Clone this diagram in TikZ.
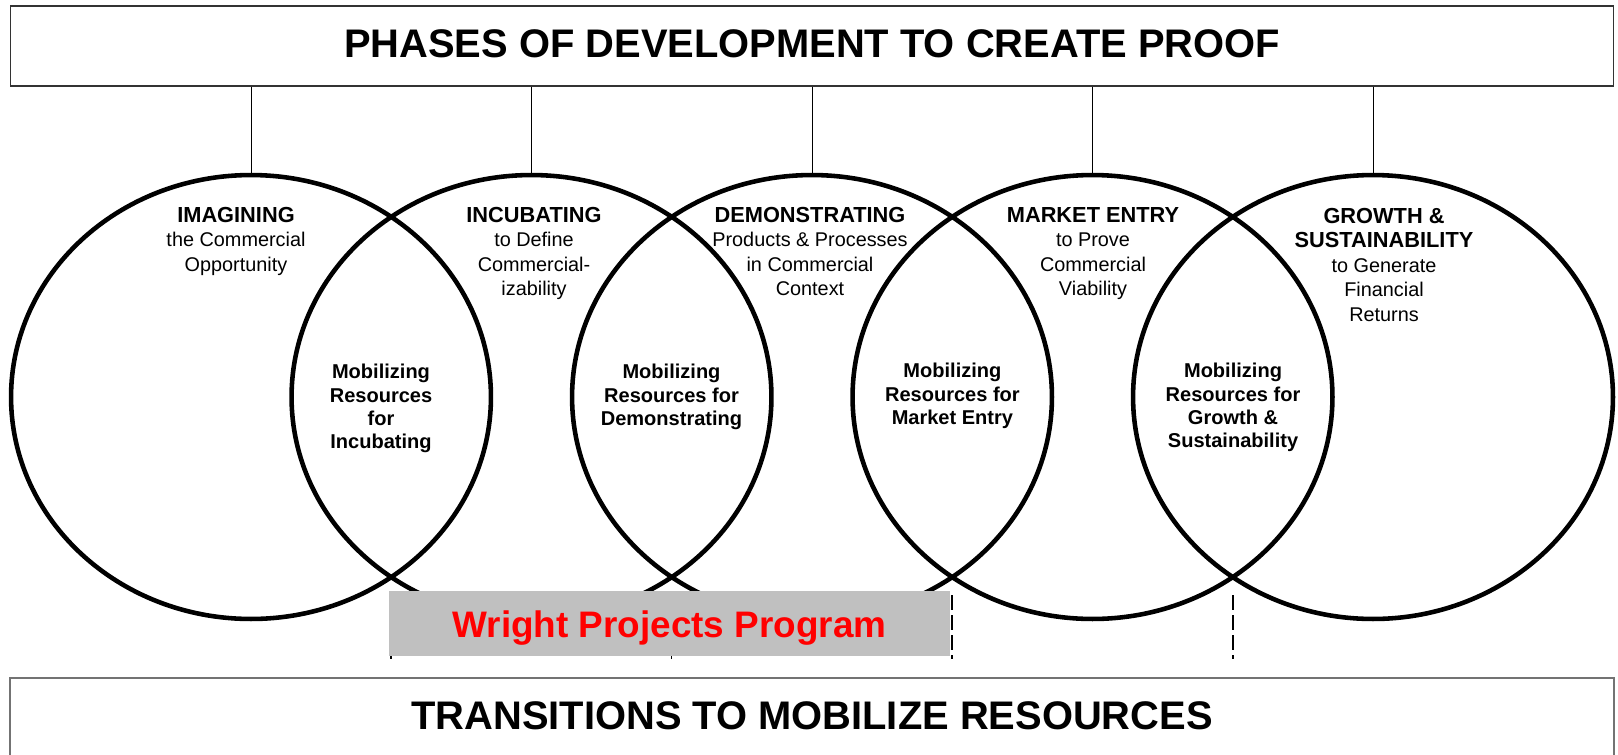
\documentclass[tikz,border=0pt]{standalone}
\usepackage{fontspec}
\setmainfont{Liberation Sans}
\usetikzlibrary{shapes.geometric,positioning,calc}
\definecolor{wppgray}{RGB}{192,192,192}
\definecolor{wppred}{RGB}{255,0,0}
\newcommand\phasename[1]{{\bfseries\fontsize{12.4}{13.9}\selectfont #1}}

\begin{document}
\begin{tikzpicture}[
    x=0.02cm, y=-0.02cm,
    titlebox/.style={rectangle, draw=black!80, line width=0.6pt, minimum width=32.08cm, font=\bfseries\fontsize{22.7}{27}\selectfont},
    phase/.style={ellipse, draw, line width=2.6pt, minimum width=9.6cm, minimum height=8.88cm, inner sep=0pt},
    phaselabel/.style={anchor=north, align=center, inner sep=0pt, font=\fontsize{11.3}{13.9}\selectfont},
    mobilabel/.style={anchor=north, align=center, inner sep=0pt, font=\bfseries\fontsize{11.4}{13.3}\selectfont},
    link/.style={draw, line width=0.55pt},
    trans/.style={draw, line width=0.8pt, dash pattern=on 0.3cm off 0.1cm},
]
\useasboundingbox (0,0) rectangle (1618,754);

% Top and bottom boxes
\node[titlebox, minimum height=1.6cm, text depth=0.08cm] (phasebox) at (812,46) {PHASES OF DEVELOPMENT TO CREATE PROOF};
\node[titlebox, draw=black!55, line width=0.9pt, minimum height=1.68cm, text depth=0.16cm] (transbox) at (812,720) {TRANSITIONS TO MOBILIZE RESOURCES};

% Phases
\node[phase] (imag) at (251,397) {};
\node[phase] (incu) at (531.5,397) {};
\node[phase] (demo) at (812,397) {};
\node[phase] (market) at (1092.5,397) {};
\node[phase] (growth) at (1373,397) {};

% Links to the top box
\draw[link] (phasebox.south -| imag.north) -- (imag.north);
\draw[link] (phasebox.south -| incu.north) -- (incu.north);
\draw[link] (phasebox.south -| demo.north) -- (demo.north);
\draw[link] (phasebox.south -| market.north) -- (market.north);
\draw[link] (phasebox.south -| growth.north) -- (growth.north);

% Transitions
\coordinate (cross1) at (391,595);
\coordinate (cross2) at (671.5,595);
\coordinate (cross3) at (952,595);
\coordinate (cross4) at (1233,595);
\coordinate (foot1) at (391,659);
\coordinate (foot2) at (671.5,659);
\coordinate (foot3) at (952,659);
\coordinate (foot4) at (1233,659);
\draw[trans] (cross1) -- (foot1);
\draw[trans] (cross2) -- (foot2);
\draw[trans] (cross3) -- (foot3);
\draw[trans] (cross4) -- (foot4);

% Program
\node[fill=wppgray, minimum width=11.22cm, minimum height=1.3cm, text height=0.56cm, text depth=0pt,
      text=wppred, font=\bfseries\fontsize{21}{25}\selectfont] (wright) at (669.5,623.5) {Wright Projects Program};

% Phase labels
\node[phaselabel] (imaglabel) at (236,207) {\phasename{IMAGINING}\\the Commercial\\Opportunity};
\node[phaselabel] (inculabel) at (534,207) {\phasename{INCUBATING}\\to Define\\Commercial-\\izability};
\node[phaselabel] (demolabel) at (810,207) {\phasename{DEMONSTRATING}\\Products \& Processes\\in Commercial\\Context};
\node[phaselabel] (marketlabel) at (1093,207) {\phasename{MARKET ENTRY}\\to Prove\\Commercial\\Viability};
\node[phaselabel] (growthlabel) at (1384,208) {\phasename{GROWTH \&}\\\phasename{SUSTAINABILITY}\\to Generate\\Financial\\Returns};

% Mobilizing labels
\node[mobilabel] (mobi1) at (381,364) {Mobilizing\\Resources\\for\\Incubating};
\node[mobilabel] (mobi2) at (671.5,364) {Mobilizing\\Resources for\\Demonstrating};
\node[mobilabel] (mobi3) at (952.4,363) {Mobilizing\\Resources for\\Market Entry};
\node[mobilabel] (mobi4) at (1233,363) {Mobilizing\\Resources for\\Growth \&\\Sustainability};

\end{tikzpicture}
\end{document}
